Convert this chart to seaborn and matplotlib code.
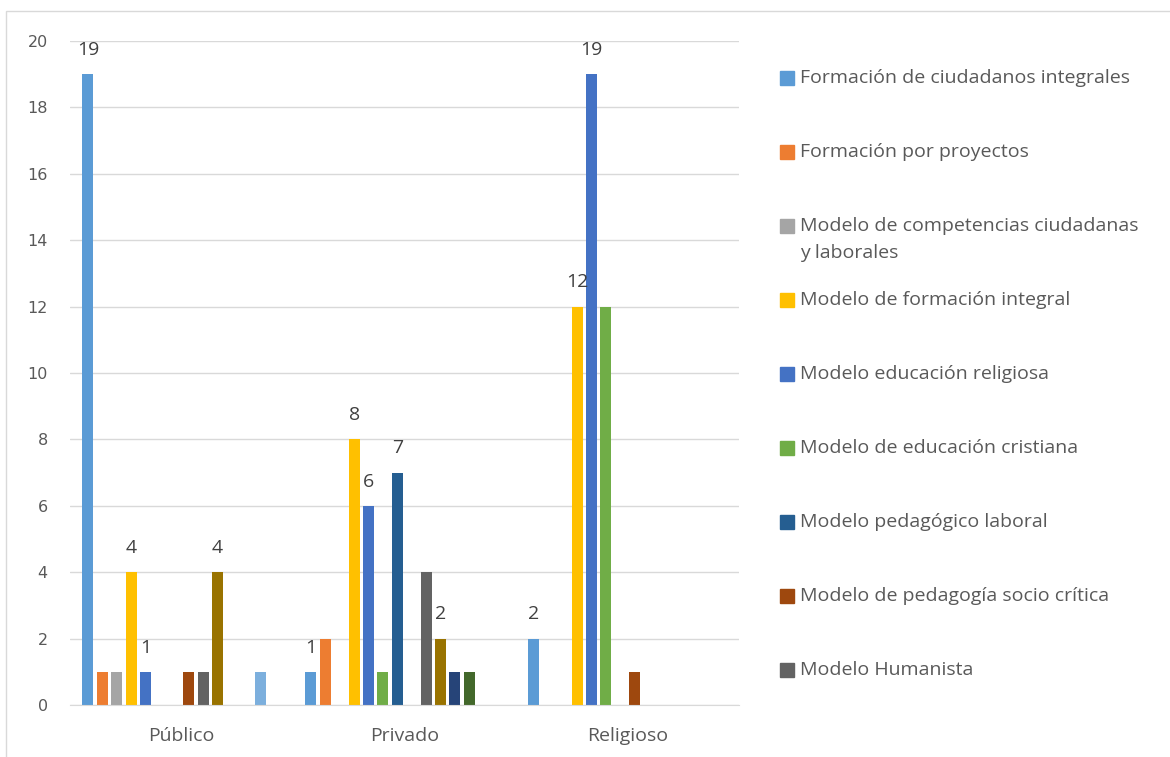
import numpy as np
import pandas as pd
import matplotlib.pyplot as plt
import seaborn as sns
from matplotlib.patches import Rectangle

# data
grupos = ["Público", "Privado", "Religioso"]
modelos = [
    "Formación de ciudadanos integrales",
    "Formación por proyectos",
    "Modelo de competencias ciudadanas\ny laborales",
    "Modelo de formación integral",
    "Modelo educación religiosa",
    "Modelo de educación cristiana",
    "Modelo pedagógico laboral",
    "Modelo de pedagogía socio crítica",
    "Modelo Humanista",
    "Serie 10", "Serie 11", "Serie 12", "Serie 13", "Serie 14",
]
publico = [19, 1, 1, 4, 1, 0, 0, 1, 1, 4, 0, 0, 1, 0]
privado = [1, 2, 0, 8, 6, 1, 7, 0, 4, 2, 1, 1, 0, 0]
religioso = [2, 0, 0, 12, 19, 12, 0, 1, 0, 0, 0, 0, 0, 0]
colores = ["#5B9BD5", "#ED7D31", "#A5A5A5", "#FFC000", "#4472C4", "#70AD47",
           "#255E91", "#9E480E", "#636363", "#997300", "#264478", "#43682B",
           "#7CAFDD", "#F1975A"]
con_etiqueta = [0, 3, 4, 6, 9]   # series that show data labels
n_leyenda = 9                    # legend entries visible in the picture

df = pd.DataFrame({
    "grupo": np.repeat(grupos, len(modelos)),
    "modelo": modelos * len(grupos),
    "valor": publico + privado + religioso,
})

sns.set_style("white")
plt.rcParams['font.family'] = ['Open Sans', 'DejaVu Sans']
gris = "#595959"

fig = plt.figure(figsize=(11.7, 7.57), dpi=100)
ax = fig.add_axes([70/1170, 1 - 705/757, 669/1170, 664/757])

sns.barplot(data=df, x="grupo", y="valor", hue="modelo", hue_order=modelos,
            palette=colores, saturation=1, width=0.904, gap=0.24,
            errorbar=None, legend=False, linewidth=0, ax=ax)

ax.set_xlim(-0.5, 2.5)
ax.set_ylim(0, 20)
ax.set_yticks(range(0, 21, 2))
ax.yaxis.grid(True, color="#D9D9D9", linewidth=1)
ax.set_axisbelow(True)
for s in ["top", "right", "left"]:
    ax.spines[s].set_visible(False)
ax.spines["bottom"].set_color("#D9D9D9")
ax.set_xlabel("")
ax.set_ylabel("")
ax.tick_params(axis="both", length=0)
ax.tick_params(axis="x", labelsize=14, labelcolor=gris, pad=16)
ax.tick_params(axis="y", labelsize=11.5, labelcolor=gris, pad=16)
for t in ax.get_yticklabels():
    t.set_family("DejaVu Sans")

# data labels
for i in con_etiqueta:
    cont = ax.containers[i]
    vals = cont.datavalues
    labs = [f"{v:g}" if v > 0 else "" for v in vals]
    ax.bar_label(cont, labels=labs, padding=11, fontsize=14, color="#404040")

# legend, laid out like the original (only first entries visible)
for i in range(n_leyenda):
    yc = 757 - (78 + 74 * i)
    fig.patches.append(Rectangle((780/1170, (yc - 7)/757), 14/1170, 14/757,
                                 transform=fig.transFigure, color=colores[i]))
    for k, linea in enumerate(modelos[i].split("\n")):
        fig.text(800/1170, (yc - 27 * k)/757, linea, fontsize=14,
                 color=gris, va="center", ha="left")

# outer chart border
fig.patches.append(Rectangle((6/1170, -0.1), 1.2, (757 - 11)/757 + 0.1,
                             transform=fig.transFigure, fill=False,
                             edgecolor="#D9D9D9", linewidth=1))

fig.savefig("out.png", dpi=100)
